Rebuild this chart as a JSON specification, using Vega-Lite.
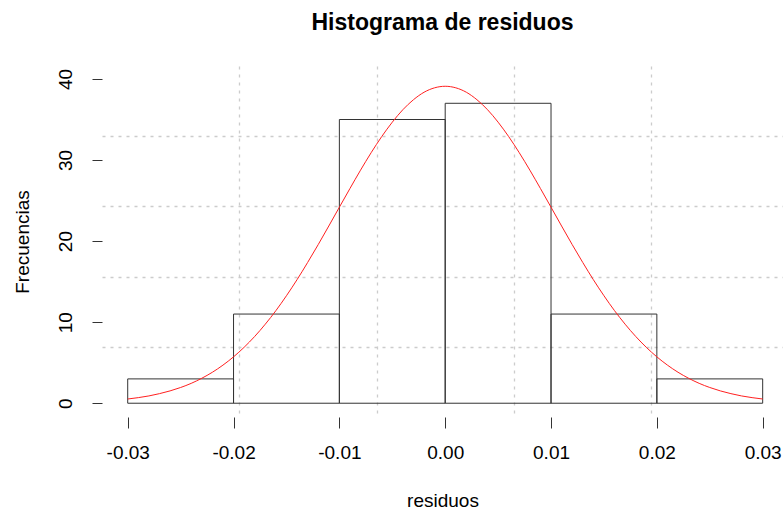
{
  "$schema": "https://vega.github.io/schema/vega-lite/v6.json",
  "width": 681,
  "height": 351,
  "autosize": {"type": "none"},
  "padding": {"left": 102, "top": 66, "right": 0, "bottom": 94},
  "background": "white",
  "title": {
    "text": "Histograma de residuos",
    "fontSize": 23,
    "font": "Liberation Sans",
    "fontWeight": "bold",
    "color": "black",
    "anchor": "middle",
    "frame": "group",
    "offset": 13,
    "baseline": "alphabetic"
  },
  "config": {
    "view": {"stroke": null},
    "axis": {
      "labelFont": "Liberation Sans",
      "titleFont": "Liberation Sans",
      "labelColor": "black",
      "titleColor": "black",
      "labelFontSize": 19,
      "titleFontSize": 19,
      "titleFontWeight": "normal",
      "tickColor": "#333333",
      "tickWidth": 1
    }
  },
  "datasets": {
    "bins": [
      {"lo": -0.03, "hi": -0.02, "count": 3},
      {"lo": -0.02, "hi": -0.01, "count": 11},
      {"lo": -0.01, "hi": 0.0, "count": 35},
      {"lo": 0.0, "hi": 0.01, "count": 37},
      {"lo": 0.01, "hi": 0.02, "count": 11},
      {"lo": 0.02, "hi": 0.03, "count": 3}
    ],
    "curve": [
      {"x": -0.030, "y": 0.52}, {"x": -0.029, "y": 0.69}, {"x": -0.028, "y": 0.90}, {"x": -0.027, "y": 1.18},
      {"x": -0.026, "y": 1.52}, {"x": -0.025, "y": 1.94}, {"x": -0.024, "y": 2.45}, {"x": -0.023, "y": 3.08},
      {"x": -0.022, "y": 3.82}, {"x": -0.021, "y": 4.70}, {"x": -0.020, "y": 5.72}, {"x": -0.019, "y": 6.90},
      {"x": -0.018, "y": 8.24}, {"x": -0.017, "y": 9.75}, {"x": -0.016, "y": 11.42}, {"x": -0.015, "y": 13.26},
      {"x": -0.014, "y": 15.24}, {"x": -0.013, "y": 17.36}, {"x": -0.012, "y": 19.57}, {"x": -0.011, "y": 21.86},
      {"x": -0.010, "y": 24.18}, {"x": -0.009, "y": 26.49}, {"x": -0.008, "y": 28.75}, {"x": -0.007, "y": 30.90},
      {"x": -0.006, "y": 32.89}, {"x": -0.005, "y": 34.67}, {"x": -0.004, "y": 36.21}, {"x": -0.003, "y": 37.44},
      {"x": -0.002, "y": 38.36}, {"x": -0.001, "y": 38.91}, {"x": 0.000, "y": 39.10}, {"x": 0.001, "y": 38.91},
      {"x": 0.002, "y": 38.36}, {"x": 0.003, "y": 37.44}, {"x": 0.004, "y": 36.21}, {"x": 0.005, "y": 34.67},
      {"x": 0.006, "y": 32.89}, {"x": 0.007, "y": 30.90}, {"x": 0.008, "y": 28.75}, {"x": 0.009, "y": 26.49},
      {"x": 0.010, "y": 24.18}, {"x": 0.011, "y": 21.86}, {"x": 0.012, "y": 19.57}, {"x": 0.013, "y": 17.36},
      {"x": 0.014, "y": 15.24}, {"x": 0.015, "y": 13.26}, {"x": 0.016, "y": 11.42}, {"x": 0.017, "y": 9.75},
      {"x": 0.018, "y": 8.24}, {"x": 0.019, "y": 6.90}, {"x": 0.020, "y": 5.72}, {"x": 0.021, "y": 4.70},
      {"x": 0.022, "y": 3.82}, {"x": 0.023, "y": 3.08}, {"x": 0.024, "y": 2.45}, {"x": 0.025, "y": 1.94},
      {"x": 0.026, "y": 1.52}, {"x": 0.027, "y": 1.18}, {"x": 0.028, "y": 0.90}, {"x": 0.029, "y": 0.69},
      {"x": 0.030, "y": 0.52}
    ]
  },
  "layer": [
    {
      "data": {"name": "bins"},
      "mark": {"type": "rect", "fill": "transparent", "stroke": "#333333", "strokeWidth": 1},
      "encoding": {
        "x": {
          "field": "lo", "type": "quantitative",
          "scale": {"domain": [-0.03243, 0.03192], "nice": false, "zero": false},
          "axis": {
            "orient": "bottom", "grid": true, "values": [-0.01944, -0.00648, 0.00648, 0.01944],
            "gridColor": "#cccccc", "gridDash": [3, 5], "gridWidth": 1.3,
            "labels": false, "ticks": false, "domain": false, "title": null
          }
        },
        "x2": {"field": "hi"},
        "y": {
          "field": "count", "type": "quantitative",
          "scale": {"domain": [-1.7, 41.6], "nice": false, "zero": false},
          "axis": {
            "orient": "left", "grid": true, "values": [6.96, 15.62, 24.28, 32.94],
            "gridColor": "#cccccc", "gridDash": [3, 5], "gridWidth": 1.3,
            "labels": false, "ticks": false, "domain": false, "title": null
          }
        },
        "y2": {"datum": 0}
      }
    },
    {
      "mark": {"type": "rule", "color": "#333333", "strokeWidth": 1},
      "encoding": {
        "x": {"datum": -0.03, "type": "quantitative", "axis": null},
        "x2": {"datum": 0.03},
        "y": {"datum": -1.7, "type": "quantitative", "axis": null}
      }
    },
    {
      "mark": {"type": "rule", "color": "#333333", "strokeWidth": 1},
      "encoding": {
        "x": {"datum": -0.03243, "type": "quantitative", "axis": null},
        "y": {"datum": 0, "type": "quantitative", "axis": null},
        "y2": {"datum": 40}
      }
    },
    {
      "data": {"name": "curve"},
      "mark": {"type": "line", "color": "#ff2020", "strokeWidth": 1, "interpolate": "monotone"},
      "encoding": {
        "x": {
          "field": "x", "type": "quantitative",
          "axis": {
            "orient": "bottom",
            "values": [-0.03, -0.02, -0.01, 0, 0.01, 0.02, 0.03],
            "labelExpr": "replace(format(datum.value, '.2f'), '\u2212', '-')",
            "grid": false, "domain": false, "tickSize": 11,
            "labelPadding": 15, "labelFlush": false, "labelOverlap": false,
            "title": "residuos", "titlePadding": 29
          }
        },
        "y": {
          "field": "y", "type": "quantitative",
          "axis": {
            "orient": "left",
            "values": [0, 10, 20, 30, 40],
            "labelAngle": -90,
            "grid": false, "domain": false, "tickSize": 10,
            "labelPadding": 17, "labelOverlap": false,
            "title": "Frecuencias", "titlePadding": 24
          }
        }
      }
    }
  ],
  "resolve": {"axis": {"x": "independent", "y": "independent"}}
}
